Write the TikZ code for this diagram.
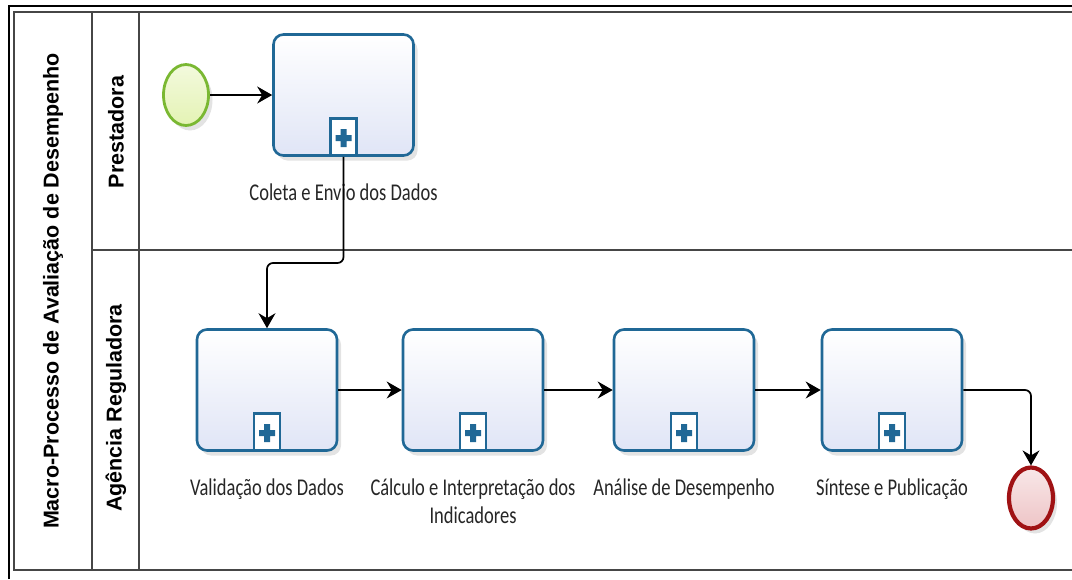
\documentclass[tikz,border=0pt]{standalone}
\usepackage{fontspec}
\setmainfont{Carlito}
\newfontfamily\lanefont{Liberation Sans Bold}
\usetikzlibrary{positioning, arrows.meta, shapes.geometric, shadows}

\definecolor{taskblue}{RGB}{32,104,150}
\definecolor{taskfill}{RGB}{224,229,246}
\definecolor{startgreen}{RGB}{122,184,50}
\definecolor{startfill}{RGB}{228,243,180}
\definecolor{endred}{RGB}{160,18,20}
\definecolor{endfill}{RGB}{238,196,198}
\definecolor{poolgray}{RGB}{70,70,70}

\begin{document}
\begin{tikzpicture}[
    % GLOBAL CFG
    x=1pt, y=-1pt,
    % Styles
    task/.style={% For the sub-process boxes
        rectangle,
        rounded corners=10pt,
        draw=taskblue,
        line width=2.6pt,
        minimum width=140pt,
        minimum height=121pt,
        top color=white,
        bottom color=taskfill,
        drop shadow={shadow xshift=4pt, shadow yshift=-5pt, opacity=0.22},
        },
    marker/.style={% The little + box of a collapsed sub-process
        rectangle,
        draw=taskblue,
        line width=2.4pt,
        fill=white,
        anchor=south,
        inner sep=0pt,
        minimum width=26pt,
        minimum height=37pt,
        path picture={
            \fill[taskblue]
                ([yshift=-1pt]path picture bounding box.center) +(-8pt,-3pt) rectangle +(8pt,3pt)
                ([yshift=-1pt]path picture bounding box.center) +(-3pt,-9pt) rectangle +(3pt,9pt);
            },
        },
    startev/.style={% Start event
        ellipse,
        draw=startgreen,
        line width=2.8pt,
        minimum width=45pt,
        minimum height=61pt,
        top color=startfill!45,
        bottom color=startfill,
        drop shadow={shadow xshift=4pt, shadow yshift=-5pt, opacity=0.22},
        },
    endev/.style={% End event
        ellipse,
        draw=endred,
        line width=4.2pt,
        minimum width=44pt,
        minimum height=61pt,
        top color=endfill!40,
        bottom color=endfill,
        drop shadow={shadow xshift=4pt, shadow yshift=-5pt, opacity=0.22},
        },
    tasklabel/.style={% Text under the boxes
        font=\fontsize{18.5}{21}\selectfont,
        text=black!85,
        align=center,
        yscale=1.3,
        inner sep=0pt,
        },
    lanelabel/.style={% Rotated pool and lane names
        font=\lanefont\fontsize{21.5}{26}\selectfont,
        rotate=90,
        inner sep=0pt,
        },
    pool/.style={% Pool and lane borders
        draw=poolgray,
        line width=1.6pt,
        },
    ArrowF/.style={% Sequence flows
        -{Stealth[length=15pt, width=17pt, inset=5pt]},
        line width=1.7pt,
        },
    ArrowC1/.style={% Sequence flows with bends
        -{Stealth[length=15pt, width=17pt, inset=5pt]},
        line width=1.7pt,
        rounded corners=6pt,
        },
    ]

    \clip (0,0) rectangle (1072,579);

    % Outer frame
    \draw[line width=2.2pt] (9,579) -- (9,6) -- (1072,6);

    % Pool and lanes
    \draw[pool] (1080,12) -- (14,12) -- (14,570) -- (1080,570);
    \draw[pool] (92,12) -- (92,570);
    \draw[pool] (139,12) -- (139,570);
    \draw[pool] (92,250) -- (1080,250);

    % Pool and lane names
    \node[lanelabel] (pooltitle) at (53,291) {Macro-Processo de Avaliação de Desempenho};
    \node[lanelabel] (lane1) at (116,132) {Prestadora};
    \node[lanelabel] (lane2) at (116,408) {Agência Reguladora};

    % Events
    \node[startev] (start) at (186,95) {};
    \node[endev] (stop) at (1031,498) {};

    % Sub-processes named t#
    \node[task] (t1) at (343.5,95) {};
    \node[task] (t2) at (267,390) {};
    \node[task] (t3) at (473,390) {};
    \node[task] (t4) at (684,390) {};
    \node[task] (t5) at (892,390) {};

    \foreach \t in {t1,t2,t3,t4,t5}
        \node[marker] (m-\t) at (\t.south) {};

    % Labels named l#
    \node[tasklabel, below=27pt of t1] (l1) {Coleta e Envio dos Dados};
    \node[tasklabel, below=27pt of t2] (l2) {Validação dos Dados};
    \node[tasklabel, below=27pt of t3] (l3) {Cálculo e Interpretação dos\\Indicadores};
    \node[tasklabel, below=27pt of t4] (l4) {Análise de Desempenho};
    \node[tasklabel, below=27pt of t5] (l5) {Síntese e Publicação};

    % Flows
    \coordinate (bend1) at (0,263);
    \draw[ArrowF] (start) -- (t1);
    \draw[ArrowC1] (t1.south) |- (bend1 -| t2.north) -- (t2.north);
    \draw[ArrowF] (t2) -- (t3);
    \draw[ArrowF] (t3) -- (t4);
    \draw[ArrowF] (t4) -- (t5);
    \draw[ArrowC1] (t5.east) -| (stop.north);

\end{tikzpicture}
\end{document}
